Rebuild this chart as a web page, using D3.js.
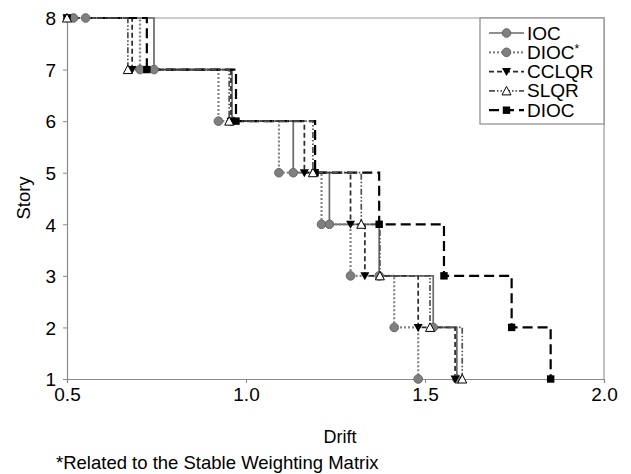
<!DOCTYPE html>
<html>
<head>
<meta charset="utf-8">
<script src="https://cdn.jsdelivr.net/npm/d3@7"></script>
<style>
  body { margin: 0; background: #fff; }
  text { font-family: "Liberation Sans", Arial, sans-serif; }
</style>
</head>
<body>
<div id="chart"></div>
<script>
// stories, top to bottom
var vStories = [8, 7, 6, 5, 4, 3, 2, 1];

// drift per story (same order as vStories)
var vIOC      = [0.552, 0.743, 0.961, 1.132, 1.233, 1.372, 1.523, 1.589];
var vDIOCStar = [0.518, 0.704, 0.923, 1.092, 1.211, 1.292, 1.414, 1.481];
var vCCLQR    = [0.500, 0.682, 0.958, 1.163, 1.292, 1.332, 1.481, 1.584];
var vSLQR     = [0.500, 0.670, 0.953, 1.187, 1.322, 1.374, 1.514, 1.604];
var vDIOC     = [0.500, 0.723, 0.972, 1.193, 1.372, 1.553, 1.742, 1.851];

var vXTicks = [0.5, 1.0, 1.5, 2.0];
var vYTicks = [1, 2, 3, 4, 5, 6, 7, 8];

var vSeries = [
    { name: "IOC",    values: vIOC,      stroke: "#6a6a6a", width: 1.7, dash: null,               marker: "circle" },
    { name: "DIOC*",  values: vDIOCStar, stroke: "#858585", width: 2.2, dash: "2,2",              marker: "circle" },
    { name: "CCLQR",  values: vCCLQR,    stroke: "#2a2a2a", width: 1.7, dash: "5,3",              marker: "tridown" },
    { name: "DIOC",   values: vDIOC,     stroke: "#000",    width: 2.2, dash: "10,5",             marker: "square" },
    { name: "SLQR",   values: vSLQR,     stroke: "#505050", width: 1.7, dash: "6,2,1.5,2,1.5,2",  marker: "triup" }
];
var vLegendOrder = ["IOC", "DIOC*", "CCLQR", "SLQR", "DIOC"];

var vW = 631, vH = 474;
var vPlot = { left: 67, right: 604, top: 18, bottom: 379 };

var svg = d3.select("#chart").append("svg")
    .attr("width", vW)
    .attr("height", vH);

var vX = d3.scaleLinear().domain([0.5, 2.0]).range([vPlot.left, vPlot.right]);
var vY = d3.scaleLinear().domain([1, 8]).range([vPlot.bottom, vPlot.top]);

// frame on top and right
svg.append("path")
    .attr("d", "M" + vPlot.left + "," + vPlot.top + "H" + vPlot.right + "V" + vPlot.bottom)
    .attr("fill", "none")
    .attr("stroke", "#9a9a9a")
    .attr("stroke-width", 1.2);

// axes
var vXAxis = svg.append("g")
    .attr("transform", "translate(0," + vPlot.bottom + ")")
    .call(d3.axisBottom(vX).tickValues(vXTicks).tickFormat(d3.format(".1f")).tickSize(4).tickPadding(5));
var vYAxis = svg.append("g")
    .attr("transform", "translate(" + vPlot.left + ",0)")
    .call(d3.axisLeft(vY).tickValues(vYTicks).tickFormat(d3.format("d")).tickSize(4).tickPadding(7));

[vXAxis, vYAxis].forEach(function (aAxis) {
    aAxis.select(".domain").attr("stroke", "#8a8a8a").attr("stroke-width", 1.2);
    aAxis.selectAll(".tick line").attr("stroke", "#8a8a8a");
    aAxis.selectAll(".tick text")
        .attr("fill", "#000")
        .style("font-size", "19px");
});
vYAxis.selectAll(".tick text").attr("dy", "0.36em");

// titles
svg.append("text")
    .attr("x", 340).attr("y", 443)
    .attr("text-anchor", "middle")
    .style("font-size", "18px")
    .text("Drift");
svg.append("text")
    .attr("transform", "translate(30,198) rotate(-90)")
    .attr("text-anchor", "middle")
    .style("font-size", "18.5px")
    .text("Story");
svg.append("text")
    .attr("x", 56).attr("y", 469)
    .style("font-size", "18.5px")
    .text("*Related to the Stable Weighting Matrix");

// markers
function drawMarker(aSel, aType, aX, aY) {
    if (aType === "circle") {
        aSel.append("circle").attr("cx", aX).attr("cy", aY).attr("r", 4.3)
            .attr("fill", "#7f7f7f").attr("stroke", "#666").attr("stroke-width", 1);
    } else if (aType === "square") {
        aSel.append("rect").attr("x", aX - 3.7).attr("y", aY - 3.7).attr("width", 7.4).attr("height", 7.4)
            .attr("fill", "#000");
    } else if (aType === "tridown") {
        aSel.append("path").attr("d", "M" + (aX - 4.5) + "," + (aY - 3.5) + "h9l-4.5,8z")
            .attr("fill", "#000");
    } else if (aType === "triup") {
        aSel.append("path").attr("d", "M" + (aX - 4.5) + "," + (aY + 4) + "h9l-4.5,-8.5z")
            .attr("fill", "#fff").attr("stroke", "#000").attr("stroke-width", 1);
    }
}

var vLine = d3.line()
    .x(function (aItem) { return vX(aItem.drift); })
    .y(function (aItem) { return vY(aItem.story); })
    .curve(d3.curveStepAfter);

vSeries.forEach(function (aSer) {
    var vPts = vStories.map(function (aStory, aIdx) {
        return { story: aStory, drift: aSer.values[aIdx] };
    });
    svg.append("path")
        .datum(vPts)
        .attr("d", vLine)
        .attr("fill", "none")
        .attr("stroke", aSer.stroke)
        .attr("stroke-width", aSer.width)
        .attr("stroke-dasharray", aSer.dash);
});

vSeries.forEach(function (aSer) {
    var vG = svg.append("g");
    vStories.forEach(function (aStory, aIdx) {
        drawMarker(vG, aSer.marker, vX(aSer.values[aIdx]), vY(aStory));
    });
});

// legend
var vLeg = svg.append("g");
vLeg.append("rect")
    .attr("x", 480).attr("y", vPlot.top)
    .attr("width", vPlot.right - 480).attr("height", 106)
    .attr("fill", "#fff")
    .attr("stroke", "#8a8a8a")
    .attr("stroke-width", 1.2);

vLegendOrder.forEach(function (aName, aIdx) {
    var vSer = vSeries.filter(function (aS) { return aS.name === aName; })[0];
    var vRowY = 33 + aIdx * 19.3;
    vLeg.append("line")
        .attr("x1", 489).attr("x2", 524)
        .attr("y1", vRowY).attr("y2", vRowY)
        .attr("stroke", vSer.stroke)
        .attr("stroke-width", vSer.width)
        .attr("stroke-dasharray", vSer.dash);
    drawMarker(vLeg, vSer.marker, 506.5, vRowY);
    var vT = vLeg.append("text")
        .attr("x", 527).attr("y", vRowY + 6.5)
        .style("font-size", "19px");
    if (aName.slice(-1) === "*") {
        vT.append("tspan").text(aName.slice(0, -1));
        vT.append("tspan").attr("dy", -6).style("font-size", "12px").text("*");
    } else {
        vT.text(aName);
    }
});
</script>
</body>
</html>
